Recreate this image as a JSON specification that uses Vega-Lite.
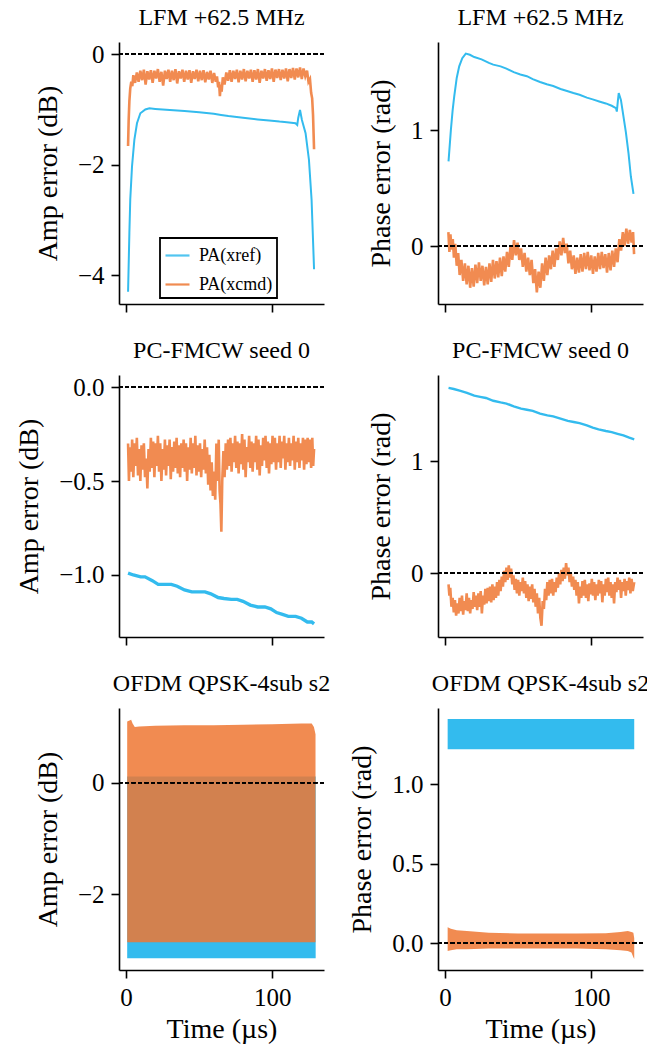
{
"$schema": "https://vega.github.io/schema/vega-lite/v6.json",
"background": "white",
"padding": {"left": 15, "top": 6, "right": 0, "bottom": 6},
"bounds": "flush",
"columns": 2,
"spacing": {"row": 71, "column": 114},
"resolve": {"scale": {"color": "independent"}, "legend": {"color": "independent"}},
"config": {
  "font": "Liberation Serif",
  "view": {"stroke": null},
  "axis": {"grid": false, "domainColor": "black", "domainWidth": 1.6, "tickColor": "black", "tickWidth": 1.6, "tickSize": 8, "labelPadding": 7, "labelFont": "Liberation Serif", "labelFontSize": 25, "labelColor": "black", "titleFont": "Liberation Serif", "titleFontSize": 28, "titleFontWeight": "normal", "titleColor": "black"},
  "axisY": {"titlePadding": 15},
  "axisX": {"titlePadding": 5},
  "title": {"font": "Liberation Serif", "fontSize": 24, "fontWeight": "normal", "color": "black", "offset": 12},
  "legend": {"labelFont": "Liberation Serif", "labelFontSize": 18, "labelColor": "black", "strokeColor": "black", "strokeWidth": 1.8, "fillColor": "white", "padding": 4, "cornerRadius": 0, "symbolType": "stroke", "symbolSize": 576, "symbolStrokeWidth": 2.2, "labelOffset": 8, "rowPadding": 6}
},
"datasets": {
"p1": [
{"s":"r","t":1.4,"v":-4.3},{"s":"r","t":2.3,"v":-3.23},{"s":"r","t":2.9,"v":-2.63},{"s":"r","t":4.1,"v":-2.03},{"s":"r","t":5.7,"v":-1.55},{"s":"r","t":7.5,"v":-1.25},{"s":"r","t":9.8,"v":-1.07},{"s":"r","t":13.2,"v":-1.0},{"s":"r","t":16,"v":-0.98},{"s":"r","t":20,"v":-0.99},{"s":"r","t":30,"v":-1.01},{"s":"r","t":40,"v":-1.03},{"s":"r","t":50,"v":-1.05},{"s":"r","t":60,"v":-1.08},{"s":"r","t":65,"v":-1.1},{"s":"r","t":70,"v":-1.12},{"s":"r","t":80,"v":-1.15},{"s":"r","t":90,"v":-1.18},{"s":"r","t":97.9,"v":-1.2},{"s":"r","t":105,"v":-1.22},{"s":"r","t":110,"v":-1.23},{"s":"r","t":115.9,"v":-1.25},{"s":"r","t":117.1,"v":-1.28},{"s":"r","t":117.8,"v":-1.15},{"s":"r","t":119,"v":-1.01},{"s":"r","t":120.3,"v":-1.19},{"s":"r","t":122.8,"v":-1.43},{"s":"r","t":125.1,"v":-1.91},{"s":"r","t":126.9,"v":-2.63},{"s":"r","t":128.6,"v":-3.89},
{"s":"c","t":1.4,"v":-1.66},{"s":"c","t":1.8,"v":-1.2},{"s":"c","t":2.3,"v":-0.85},{"s":"c","t":2.9,"v":-0.62},{"s":"c","t":3.6,"v":-0.5},{"s":"c","t":4.3,"v":-0.58},{"s":"c","t":5.0,"v":-0.38},{"s":"c","t":6.2,"v":-0.52},{"s":"c","t":7.4,"v":-0.33},{"s":"c","t":8.6,"v":-0.5},{"s":"c","t":9.8,"v":-0.3},{"s":"c","t":11.0,"v":-0.47},{"s":"c","t":12.2,"v":-0.28},{"s":"c","t":13.4,"v":-0.55},{"s":"c","t":14.6,"v":-0.31},{"s":"c","t":15.8,"v":-0.46},{"s":"c","t":17.0,"v":-0.29},{"s":"c","t":18.2,"v":-0.52},{"s":"c","t":19.4,"v":-0.3},{"s":"c","t":20.6,"v":-0.44},{"s":"c","t":21.8,"v":-0.27},{"s":"c","t":23.0,"v":-0.5},{"s":"c","t":24.2,"v":-0.32},{"s":"c","t":25.4,"v":-0.57},{"s":"c","t":26.6,"v":-0.3},{"s":"c","t":27.8,"v":-0.45},{"s":"c","t":29.0,"v":-0.28},{"s":"c","t":30.2,"v":-0.5},{"s":"c","t":31.4,"v":-0.3},{"s":"c","t":32.6,"v":-0.47},{"s":"c","t":33.8,"v":-0.27},{"s":"c","t":35.0,"v":-0.53},{"s":"c","t":36.2,"v":-0.31},{"s":"c","t":37.4,"v":-0.44},{"s":"c","t":38.6,"v":-0.28},{"s":"c","t":39.8,"v":-0.5},{"s":"c","t":41.0,"v":-0.3},{"s":"c","t":42.2,"v":-0.46},{"s":"c","t":43.4,"v":-0.29},{"s":"c","t":44.6,"v":-0.52},{"s":"c","t":45.8,"v":-0.31},{"s":"c","t":47.0,"v":-0.45},{"s":"c","t":48.2,"v":-0.28},{"s":"c","t":49.4,"v":-0.49},{"s":"c","t":50.6,"v":-0.3},{"s":"c","t":51.8,"v":-0.47},{"s":"c","t":53.0,"v":-0.29},{"s":"c","t":54.2,"v":-0.51},{"s":"c","t":55.4,"v":-0.32},{"s":"c","t":56.6,"v":-0.46},{"s":"c","t":57.8,"v":-0.3},{"s":"c","t":59.0,"v":-0.52},{"s":"c","t":60.2,"v":-0.34},{"s":"c","t":61.4,"v":-0.5},{"s":"c","t":62.2,"v":-0.4},{"s":"c","t":63.0,"v":-0.6},{"s":"c","t":63.6,"v":-0.5},{"s":"c","t":64.2,"v":-0.76},{"s":"c","t":64.8,"v":-0.55},{"s":"c","t":65.4,"v":-0.68},{"s":"c","t":66.2,"v":-0.42},{"s":"c","t":67.4,"v":-0.55},{"s":"c","t":68.6,"v":-0.33},{"s":"c","t":69.8,"v":-0.48},{"s":"c","t":71.0,"v":-0.29},{"s":"c","t":72.2,"v":-0.5},{"s":"c","t":73.4,"v":-0.3},{"s":"c","t":74.6,"v":-0.45},{"s":"c","t":75.8,"v":-0.28},{"s":"c","t":77.0,"v":-0.51},{"s":"c","t":78.2,"v":-0.3},{"s":"c","t":79.4,"v":-0.46},{"s":"c","t":80.6,"v":-0.27},{"s":"c","t":81.8,"v":-0.49},{"s":"c","t":83.0,"v":-0.3},{"s":"c","t":84.2,"v":-0.44},{"s":"c","t":85.4,"v":-0.28},{"s":"c","t":86.6,"v":-0.5},{"s":"c","t":87.8,"v":-0.29},{"s":"c","t":89.0,"v":-0.46},{"s":"c","t":90.2,"v":-0.27},{"s":"c","t":91.4,"v":-0.52},{"s":"c","t":92.6,"v":-0.3},{"s":"c","t":93.8,"v":-0.44},{"s":"c","t":95.0,"v":-0.27},{"s":"c","t":96.2,"v":-0.48},{"s":"c","t":97.4,"v":-0.29},{"s":"c","t":98.6,"v":-0.45},{"s":"c","t":99.8,"v":-0.26},{"s":"c","t":101.0,"v":-0.5},{"s":"c","t":102.2,"v":-0.28},{"s":"c","t":103.4,"v":-0.43},{"s":"c","t":104.6,"v":-0.27},{"s":"c","t":105.8,"v":-0.47},{"s":"c","t":107.0,"v":-0.28},{"s":"c","t":108.2,"v":-0.44},{"s":"c","t":109.4,"v":-0.26},{"s":"c","t":110.6,"v":-0.49},{"s":"c","t":111.8,"v":-0.27},{"s":"c","t":113.0,"v":-0.43},{"s":"c","t":114.2,"v":-0.25},{"s":"c","t":115.4,"v":-0.46},{"s":"c","t":116.6,"v":-0.26},{"s":"c","t":117.8,"v":-0.42},{"s":"c","t":119.0,"v":-0.24},{"s":"c","t":120.2,"v":-0.45},{"s":"c","t":121.4,"v":-0.26},{"s":"c","t":122.6,"v":-0.4},{"s":"c","t":123.8,"v":-0.3},{"s":"c","t":124.8,"v":-0.5},{"s":"c","t":125.8,"v":-0.45},{"s":"c","t":126.6,"v":-0.7},{"s":"c","t":127.3,"v":-0.8},{"s":"c","t":127.9,"v":-1.1},{"s":"c","t":128.6,"v":-1.72}
],
"p2": [
{"s":"r","t":2.4,"v":0.73},{"s":"r","t":4.0,"v":1.0},{"s":"r","t":5.2,"v":1.17},{"s":"r","t":6.3,"v":1.29},{"s":"r","t":8.0,"v":1.45},{"s":"r","t":9.7,"v":1.55},{"s":"r","t":11.8,"v":1.62},{"s":"r","t":14.2,"v":1.66},{"s":"r","t":17,"v":1.65},{"s":"r","t":20,"v":1.63},{"s":"r","t":25,"v":1.61},{"s":"r","t":30,"v":1.58},{"s":"r","t":33,"v":1.565},{"s":"r","t":38,"v":1.55},{"s":"r","t":42,"v":1.53},{"s":"r","t":47,"v":1.5},{"s":"r","t":51.5,"v":1.48},{"s":"r","t":56,"v":1.465},{"s":"r","t":60,"v":1.44},{"s":"r","t":65,"v":1.415},{"s":"r","t":69.6,"v":1.395},{"s":"r","t":74,"v":1.38},{"s":"r","t":79,"v":1.355},{"s":"r","t":84,"v":1.335},{"s":"r","t":87.8,"v":1.32},{"s":"r","t":92,"v":1.305},{"s":"r","t":97,"v":1.28},{"s":"r","t":101,"v":1.265},{"s":"r","t":106,"v":1.245},{"s":"r","t":110,"v":1.23},{"s":"r","t":114,"v":1.21},{"s":"r","t":116.9,"v":1.19},{"s":"r","t":117.5,"v":1.16},{"s":"r","t":118.2,"v":1.25},{"s":"r","t":118.8,"v":1.32},{"s":"r","t":120.3,"v":1.26},{"s":"r","t":122,"v":1.12},{"s":"r","t":123.7,"v":0.98},{"s":"r","t":125.5,"v":0.8},{"s":"r","t":127.1,"v":0.6},{"s":"r","t":128.9,"v":0.45},
{"s":"c","t":2.3,"v":0.12},{"s":"c","t":3.0,"v":-0.05},{"s":"c","t":3.7,"v":0.1},{"s":"c","t":4.5,"v":-0.03},{"s":"c","t":5.3,"v":0.06},{"s":"c","t":6.1,"v":-0.1},{"s":"c","t":7.0,"v":0.02},{"s":"c","t":8.0,"v":-0.17},{"s":"c","t":9.0,"v":-0.06},{"s":"c","t":10.0,"v":-0.25},{"s":"c","t":11.2,"v":-0.12},{"s":"c","t":12.4,"v":-0.3},{"s":"c","t":13.6,"v":-0.15},{"s":"c","t":14.8,"v":-0.33},{"s":"c","t":16.0,"v":-0.17},{"s":"c","t":17.2,"v":-0.36},{"s":"c","t":18.4,"v":-0.19},{"s":"c","t":19.6,"v":-0.35},{"s":"c","t":20.8,"v":-0.16},{"s":"c","t":22.0,"v":-0.32},{"s":"c","t":23.2,"v":-0.14},{"s":"c","t":24.4,"v":-0.3},{"s":"c","t":25.6,"v":-0.17},{"s":"c","t":26.8,"v":-0.34},{"s":"c","t":28.0,"v":-0.18},{"s":"c","t":29.2,"v":-0.33},{"s":"c","t":30.4,"v":-0.15},{"s":"c","t":31.6,"v":-0.31},{"s":"c","t":32.8,"v":-0.12},{"s":"c","t":34.0,"v":-0.28},{"s":"c","t":35.2,"v":-0.13},{"s":"c","t":36.4,"v":-0.27},{"s":"c","t":37.6,"v":-0.1},{"s":"c","t":38.8,"v":-0.26},{"s":"c","t":40.0,"v":-0.09},{"s":"c","t":41.2,"v":-0.22},{"s":"c","t":42.4,"v":-0.05},{"s":"c","t":43.6,"v":-0.18},{"s":"c","t":44.8,"v":0.0},{"s":"c","t":46.0,"v":-0.12},{"s":"c","t":47.2,"v":0.05},{"s":"c","t":48.4,"v":-0.08},{"s":"c","t":49.6,"v":0.03},{"s":"c","t":50.8,"v":-0.12},{"s":"c","t":52.0,"v":-0.02},{"s":"c","t":53.2,"v":-0.18},{"s":"c","t":54.4,"v":-0.06},{"s":"c","t":55.6,"v":-0.22},{"s":"c","t":56.8,"v":-0.1},{"s":"c","t":58.0,"v":-0.25},{"s":"c","t":59.2,"v":-0.12},{"s":"c","t":60.4,"v":-0.32},{"s":"c","t":61.6,"v":-0.2},{"s":"c","t":62.8,"v":-0.4},{"s":"c","t":64.0,"v":-0.22},{"s":"c","t":65.2,"v":-0.36},{"s":"c","t":66.4,"v":-0.15},{"s":"c","t":67.6,"v":-0.3},{"s":"c","t":68.8,"v":-0.1},{"s":"c","t":70.0,"v":-0.25},{"s":"c","t":71.2,"v":-0.08},{"s":"c","t":72.4,"v":-0.2},{"s":"c","t":73.6,"v":-0.04},{"s":"c","t":74.8,"v":-0.18},{"s":"c","t":76.0,"v":-0.02},{"s":"c","t":77.2,"v":-0.12},{"s":"c","t":78.4,"v":0.04},{"s":"c","t":79.6,"v":-0.08},{"s":"c","t":80.8,"v":0.07},{"s":"c","t":82.0,"v":-0.06},{"s":"c","t":83.2,"v":0.02},{"s":"c","t":84.4,"v":-0.15},{"s":"c","t":85.6,"v":-0.04},{"s":"c","t":86.8,"v":-0.2},{"s":"c","t":88.0,"v":-0.08},{"s":"c","t":89.2,"v":-0.24},{"s":"c","t":90.4,"v":-0.1},{"s":"c","t":91.6,"v":-0.23},{"s":"c","t":92.8,"v":-0.07},{"s":"c","t":94.0,"v":-0.22},{"s":"c","t":95.2,"v":-0.06},{"s":"c","t":96.4,"v":-0.2},{"s":"c","t":97.6,"v":-0.05},{"s":"c","t":98.8,"v":-0.21},{"s":"c","t":100.0,"v":-0.08},{"s":"c","t":101.2,"v":-0.24},{"s":"c","t":102.4,"v":-0.09},{"s":"c","t":103.6,"v":-0.22},{"s":"c","t":104.8,"v":-0.06},{"s":"c","t":106.0,"v":-0.2},{"s":"c","t":107.2,"v":-0.05},{"s":"c","t":108.4,"v":-0.19},{"s":"c","t":109.6,"v":-0.07},{"s":"c","t":110.8,"v":-0.23},{"s":"c","t":112.0,"v":-0.06},{"s":"c","t":113.2,"v":-0.21},{"s":"c","t":114.4,"v":-0.04},{"s":"c","t":115.6,"v":-0.18},{"s":"c","t":116.8,"v":-0.02},{"s":"c","t":118.0,"v":-0.14},{"s":"c","t":119.2,"v":0.06},{"s":"c","t":120.4,"v":-0.04},{"s":"c","t":121.6,"v":0.12},{"s":"c","t":122.8,"v":0.0},{"s":"c","t":124.0,"v":0.15},{"s":"c","t":125.2,"v":0.02},{"s":"c","t":126.4,"v":0.14},{"s":"c","t":127.6,"v":0.03},{"s":"c","t":128.6,"v":0.12},{"s":"c","t":129.3,"v":-0.07}
],
"p3": [
{"s":"r","t":1.4,"v":-0.99},{"s":"r","t":5,"v":-1.0},{"s":"r","t":10,"v":-1.01},{"s":"r","t":13,"v":-1.01},{"s":"r","t":18,"v":-1.03},{"s":"r","t":22,"v":-1.05},{"s":"r","t":26,"v":-1.05},{"s":"r","t":31,"v":-1.05},{"s":"r","t":35,"v":-1.06},{"s":"r","t":40,"v":-1.08},{"s":"r","t":45,"v":-1.09},{"s":"r","t":50,"v":-1.09},{"s":"r","t":54,"v":-1.09},{"s":"r","t":58,"v":-1.1},{"s":"r","t":63,"v":-1.12},{"s":"r","t":67,"v":-1.125},{"s":"r","t":72,"v":-1.13},{"s":"r","t":76,"v":-1.13},{"s":"r","t":80,"v":-1.14},{"s":"r","t":85,"v":-1.16},{"s":"r","t":90,"v":-1.17},{"s":"r","t":95,"v":-1.17},{"s":"r","t":99,"v":-1.18},{"s":"r","t":103,"v":-1.2},{"s":"r","t":107,"v":-1.21},{"s":"r","t":111,"v":-1.22},{"s":"r","t":116,"v":-1.22},{"s":"r","t":120,"v":-1.23},{"s":"r","t":124,"v":-1.25},{"s":"r","t":127,"v":-1.25},{"s":"r","t":128.6,"v":-1.26},
{"s":"c","t":1.4,"v":-0.3},{"s":"c","t":2.0,"v":-0.5},{"s":"c","t":2.6,"v":-0.32},{"s":"c","t":3.4,"v":-0.45},{"s":"c","t":4.2,"v":-0.28},{"s":"c","t":5.0,"v":-0.48},{"s":"c","t":5.8,"v":-0.3},{"s":"c","t":6.6,"v":-0.42},{"s":"c","t":7.4,"v":-0.27},{"s":"c","t":8.2,"v":-0.47},{"s":"c","t":9.0,"v":-0.33},{"s":"c","t":9.8,"v":-0.5},{"s":"c","t":10.6,"v":-0.31},{"s":"c","t":11.4,"v":-0.44},{"s":"c","t":12.2,"v":-0.3},{"s":"c","t":13.0,"v":-0.48},{"s":"c","t":13.8,"v":-0.38},{"s":"c","t":14.6,"v":-0.54},{"s":"c","t":15.4,"v":-0.33},{"s":"c","t":16.2,"v":-0.45},{"s":"c","t":17.0,"v":-0.27},{"s":"c","t":17.8,"v":-0.43},{"s":"c","t":18.6,"v":-0.29},{"s":"c","t":19.4,"v":-0.48},{"s":"c","t":20.2,"v":-0.3},{"s":"c","t":21.0,"v":-0.42},{"s":"c","t":21.8,"v":-0.26},{"s":"c","t":22.6,"v":-0.45},{"s":"c","t":23.4,"v":-0.3},{"s":"c","t":24.2,"v":-0.5},{"s":"c","t":25.0,"v":-0.33},{"s":"c","t":25.8,"v":-0.44},{"s":"c","t":26.6,"v":-0.28},{"s":"c","t":27.4,"v":-0.47},{"s":"c","t":28.2,"v":-0.31},{"s":"c","t":29.0,"v":-0.42},{"s":"c","t":29.8,"v":-0.28},{"s":"c","t":30.6,"v":-0.49},{"s":"c","t":31.4,"v":-0.32},{"s":"c","t":32.2,"v":-0.45},{"s":"c","t":33.0,"v":-0.29},{"s":"c","t":33.8,"v":-0.43},{"s":"c","t":34.6,"v":-0.27},{"s":"c","t":35.4,"v":-0.46},{"s":"c","t":36.2,"v":-0.31},{"s":"c","t":37.0,"v":-0.48},{"s":"c","t":37.8,"v":-0.3},{"s":"c","t":38.6,"v":-0.43},{"s":"c","t":39.4,"v":-0.28},{"s":"c","t":40.2,"v":-0.45},{"s":"c","t":41.0,"v":-0.3},{"s":"c","t":41.8,"v":-0.5},{"s":"c","t":42.6,"v":-0.32},{"s":"c","t":43.4,"v":-0.44},{"s":"c","t":44.2,"v":-0.27},{"s":"c","t":45.0,"v":-0.46},{"s":"c","t":45.8,"v":-0.3},{"s":"c","t":46.6,"v":-0.43},{"s":"c","t":47.4,"v":-0.26},{"s":"c","t":48.2,"v":-0.47},{"s":"c","t":49.0,"v":-0.31},{"s":"c","t":49.8,"v":-0.45},{"s":"c","t":50.6,"v":-0.3},{"s":"c","t":51.4,"v":-0.48},{"s":"c","t":52.2,"v":-0.33},{"s":"c","t":53.0,"v":-0.44},{"s":"c","t":53.8,"v":-0.28},{"s":"c","t":54.6,"v":-0.46},{"s":"c","t":55.4,"v":-0.32},{"s":"c","t":56.2,"v":-0.52},{"s":"c","t":57.0,"v":-0.36},{"s":"c","t":57.8,"v":-0.55},{"s":"c","t":58.6,"v":-0.4},{"s":"c","t":59.4,"v":-0.58},{"s":"c","t":60.2,"v":-0.45},{"s":"c","t":61.0,"v":-0.6},{"s":"c","t":61.8,"v":-0.3},{"s":"c","t":62.6,"v":-0.5},{"s":"c","t":63.4,"v":-0.28},{"s":"c","t":64.0,"v":-0.55},{"s":"c","t":64.6,"v":-0.62},{"s":"c","t":65.2,"v":-0.77},{"s":"c","t":65.8,"v":-0.5},{"s":"c","t":66.6,"v":-0.34},{"s":"c","t":67.4,"v":-0.48},{"s":"c","t":68.2,"v":-0.3},{"s":"c","t":69.0,"v":-0.44},{"s":"c","t":69.8,"v":-0.28},{"s":"c","t":70.6,"v":-0.42},{"s":"c","t":71.4,"v":-0.27},{"s":"c","t":72.2,"v":-0.45},{"s":"c","t":73.0,"v":-0.3},{"s":"c","t":73.8,"v":-0.4},{"s":"c","t":74.6,"v":-0.26},{"s":"c","t":75.4,"v":-0.43},{"s":"c","t":76.2,"v":-0.29},{"s":"c","t":77.0,"v":-0.46},{"s":"c","t":77.8,"v":-0.3},{"s":"c","t":78.6,"v":-0.41},{"s":"c","t":79.4,"v":-0.25},{"s":"c","t":80.2,"v":-0.44},{"s":"c","t":81.0,"v":-0.28},{"s":"c","t":81.8,"v":-0.48},{"s":"c","t":82.6,"v":-0.32},{"s":"c","t":83.4,"v":-0.4},{"s":"c","t":84.2,"v":-0.26},{"s":"c","t":85.0,"v":-0.43},{"s":"c","t":85.8,"v":-0.29},{"s":"c","t":86.6,"v":-0.45},{"s":"c","t":87.4,"v":-0.3},{"s":"c","t":88.2,"v":-0.4},{"s":"c","t":89.0,"v":-0.26},{"s":"c","t":89.8,"v":-0.44},{"s":"c","t":90.6,"v":-0.28},{"s":"c","t":91.4,"v":-0.47},{"s":"c","t":92.2,"v":-0.31},{"s":"c","t":93.0,"v":-0.42},{"s":"c","t":93.8,"v":-0.27},{"s":"c","t":94.6,"v":-0.39},{"s":"c","t":95.4,"v":-0.26},{"s":"c","t":96.2,"v":-0.43},{"s":"c","t":97.0,"v":-0.29},{"s":"c","t":97.8,"v":-0.46},{"s":"c","t":98.6,"v":-0.3},{"s":"c","t":99.4,"v":-0.41},{"s":"c","t":100.2,"v":-0.26},{"s":"c","t":101.0,"v":-0.4},{"s":"c","t":101.8,"v":-0.27},{"s":"c","t":102.6,"v":-0.44},{"s":"c","t":103.4,"v":-0.3},{"s":"c","t":104.2,"v":-0.4},{"s":"c","t":105.0,"v":-0.26},{"s":"c","t":105.8,"v":-0.43},{"s":"c","t":106.6,"v":-0.29},{"s":"c","t":107.4,"v":-0.38},{"s":"c","t":108.2,"v":-0.26},{"s":"c","t":109.0,"v":-0.44},{"s":"c","t":109.8,"v":-0.3},{"s":"c","t":110.6,"v":-0.4},{"s":"c","t":111.4,"v":-0.27},{"s":"c","t":112.2,"v":-0.42},{"s":"c","t":113.0,"v":-0.3},{"s":"c","t":113.8,"v":-0.39},{"s":"c","t":114.6,"v":-0.26},{"s":"c","t":115.4,"v":-0.44},{"s":"c","t":116.2,"v":-0.29},{"s":"c","t":117.0,"v":-0.4},{"s":"c","t":117.8,"v":-0.27},{"s":"c","t":118.6,"v":-0.43},{"s":"c","t":119.4,"v":-0.3},{"s":"c","t":120.2,"v":-0.39},{"s":"c","t":121.0,"v":-0.27},{"s":"c","t":121.8,"v":-0.44},{"s":"c","t":122.6,"v":-0.28},{"s":"c","t":123.4,"v":-0.41},{"s":"c","t":124.2,"v":-0.27},{"s":"c","t":125.0,"v":-0.4},{"s":"c","t":125.8,"v":-0.28},{"s":"c","t":126.6,"v":-0.43},{"s":"c","t":127.4,"v":-0.27},{"s":"c","t":128.0,"v":-0.42},{"s":"c","t":128.6,"v":-0.33}
],
"p4": [
{"s":"r","t":2.4,"v":1.655},{"s":"r","t":6,"v":1.645},{"s":"r","t":10,"v":1.63},{"s":"r","t":15,"v":1.61},{"s":"r","t":20,"v":1.585},{"s":"r","t":24,"v":1.575},{"s":"r","t":28,"v":1.565},{"s":"r","t":33,"v":1.54},{"s":"r","t":38,"v":1.525},{"s":"r","t":42,"v":1.515},{"s":"r","t":47,"v":1.49},{"s":"r","t":52,"v":1.47},{"s":"r","t":56,"v":1.46},{"s":"r","t":60,"v":1.45},{"s":"r","t":65,"v":1.425},{"s":"r","t":70,"v":1.41},{"s":"r","t":74,"v":1.4},{"s":"r","t":79,"v":1.38},{"s":"r","t":84,"v":1.36},{"s":"r","t":88,"v":1.35},{"s":"r","t":92,"v":1.34},{"s":"r","t":97,"v":1.32},{"s":"r","t":101,"v":1.3},{"s":"r","t":105,"v":1.285},{"s":"r","t":110,"v":1.27},{"s":"r","t":114,"v":1.26},{"s":"r","t":118,"v":1.245},{"s":"r","t":122,"v":1.23},{"s":"r","t":126,"v":1.21},{"s":"r","t":129.4,"v":1.195},
{"s":"c","t":2.4,"v":-0.1},{"s":"c","t":3.0,"v":-0.2},{"s":"c","t":3.6,"v":-0.13},{"s":"c","t":4.4,"v":-0.3},{"s":"c","t":5.2,"v":-0.22},{"s":"c","t":6.0,"v":-0.35},{"s":"c","t":6.8,"v":-0.24},{"s":"c","t":7.6,"v":-0.38},{"s":"c","t":8.4,"v":-0.27},{"s":"c","t":9.2,"v":-0.36},{"s":"c","t":10.0,"v":-0.22},{"s":"c","t":10.8,"v":-0.34},{"s":"c","t":11.6,"v":-0.2},{"s":"c","t":12.4,"v":-0.37},{"s":"c","t":13.2,"v":-0.25},{"s":"c","t":14.0,"v":-0.33},{"s":"c","t":14.8,"v":-0.18},{"s":"c","t":15.6,"v":-0.34},{"s":"c","t":16.4,"v":-0.22},{"s":"c","t":17.2,"v":-0.36},{"s":"c","t":18.0,"v":-0.24},{"s":"c","t":18.8,"v":-0.32},{"s":"c","t":19.6,"v":-0.17},{"s":"c","t":20.4,"v":-0.3},{"s":"c","t":21.2,"v":-0.2},{"s":"c","t":22.0,"v":-0.33},{"s":"c","t":22.8,"v":-0.18},{"s":"c","t":23.6,"v":-0.3},{"s":"c","t":24.4,"v":-0.16},{"s":"c","t":25.2,"v":-0.36},{"s":"c","t":26.0,"v":-0.2},{"s":"c","t":26.8,"v":-0.28},{"s":"c","t":27.6,"v":-0.14},{"s":"c","t":28.4,"v":-0.27},{"s":"c","t":29.2,"v":-0.13},{"s":"c","t":30.0,"v":-0.25},{"s":"c","t":30.8,"v":-0.12},{"s":"c","t":31.6,"v":-0.26},{"s":"c","t":32.4,"v":-0.1},{"s":"c","t":33.2,"v":-0.24},{"s":"c","t":34.0,"v":-0.12},{"s":"c","t":34.8,"v":-0.22},{"s":"c","t":35.6,"v":-0.08},{"s":"c","t":36.4,"v":-0.2},{"s":"c","t":37.2,"v":-0.06},{"s":"c","t":38.0,"v":-0.16},{"s":"c","t":38.8,"v":-0.03},{"s":"c","t":39.6,"v":-0.12},{"s":"c","t":40.4,"v":0.02},{"s":"c","t":41.2,"v":-0.08},{"s":"c","t":42.0,"v":0.05},{"s":"c","t":42.8,"v":-0.06},{"s":"c","t":43.6,"v":0.07},{"s":"c","t":44.4,"v":-0.04},{"s":"c","t":45.2,"v":0.04},{"s":"c","t":46.0,"v":-0.1},{"s":"c","t":46.8,"v":-0.02},{"s":"c","t":47.6,"v":-0.15},{"s":"c","t":48.4,"v":-0.05},{"s":"c","t":49.2,"v":-0.18},{"s":"c","t":50.0,"v":-0.06},{"s":"c","t":50.8,"v":-0.2},{"s":"c","t":51.6,"v":-0.08},{"s":"c","t":52.4,"v":-0.16},{"s":"c","t":53.2,"v":-0.04},{"s":"c","t":54.0,"v":-0.18},{"s":"c","t":54.8,"v":-0.07},{"s":"c","t":55.6,"v":-0.22},{"s":"c","t":56.4,"v":-0.1},{"s":"c","t":57.2,"v":-0.25},{"s":"c","t":58.0,"v":-0.12},{"s":"c","t":58.8,"v":-0.23},{"s":"c","t":59.6,"v":-0.1},{"s":"c","t":60.4,"v":-0.26},{"s":"c","t":61.2,"v":-0.14},{"s":"c","t":62.0,"v":-0.3},{"s":"c","t":62.8,"v":-0.18},{"s":"c","t":63.6,"v":-0.36},{"s":"c","t":64.4,"v":-0.22},{"s":"c","t":65.2,"v":-0.4},{"s":"c","t":66.0,"v":-0.47},{"s":"c","t":66.8,"v":-0.25},{"s":"c","t":67.6,"v":-0.32},{"s":"c","t":68.4,"v":-0.14},{"s":"c","t":69.2,"v":-0.24},{"s":"c","t":70.0,"v":-0.08},{"s":"c","t":70.8,"v":-0.2},{"s":"c","t":71.6,"v":-0.06},{"s":"c","t":72.4,"v":-0.18},{"s":"c","t":73.2,"v":-0.05},{"s":"c","t":74.0,"v":-0.2},{"s":"c","t":74.8,"v":-0.08},{"s":"c","t":75.6,"v":-0.17},{"s":"c","t":76.4,"v":-0.04},{"s":"c","t":77.2,"v":-0.13},{"s":"c","t":78.0,"v":0.0},{"s":"c","t":78.8,"v":-0.1},{"s":"c","t":79.6,"v":0.03},{"s":"c","t":80.4,"v":-0.07},{"s":"c","t":81.2,"v":0.05},{"s":"c","t":82.0,"v":-0.05},{"s":"c","t":82.8,"v":0.09},{"s":"c","t":83.6,"v":-0.02},{"s":"c","t":84.4,"v":0.05},{"s":"c","t":85.2,"v":-0.08},{"s":"c","t":86.0,"v":0.0},{"s":"c","t":86.8,"v":-0.12},{"s":"c","t":87.6,"v":-0.03},{"s":"c","t":88.4,"v":-0.15},{"s":"c","t":89.2,"v":-0.06},{"s":"c","t":90.0,"v":-0.2},{"s":"c","t":90.8,"v":-0.08},{"s":"c","t":91.6,"v":-0.27},{"s":"c","t":92.4,"v":-0.12},{"s":"c","t":93.2,"v":-0.22},{"s":"c","t":94.0,"v":-0.07},{"s":"c","t":94.8,"v":-0.2},{"s":"c","t":95.6,"v":-0.06},{"s":"c","t":96.4,"v":-0.22},{"s":"c","t":97.2,"v":-0.1},{"s":"c","t":98.0,"v":-0.25},{"s":"c","t":98.8,"v":-0.09},{"s":"c","t":99.6,"v":-0.19},{"s":"c","t":100.4,"v":-0.05},{"s":"c","t":101.2,"v":-0.2},{"s":"c","t":102.0,"v":-0.08},{"s":"c","t":102.8,"v":-0.24},{"s":"c","t":103.6,"v":-0.1},{"s":"c","t":104.4,"v":-0.2},{"s":"c","t":105.2,"v":-0.06},{"s":"c","t":106.0,"v":-0.18},{"s":"c","t":106.8,"v":-0.07},{"s":"c","t":107.6,"v":-0.26},{"s":"c","t":108.4,"v":-0.1},{"s":"c","t":109.2,"v":-0.2},{"s":"c","t":110.0,"v":-0.05},{"s":"c","t":110.8,"v":-0.17},{"s":"c","t":111.6,"v":-0.04},{"s":"c","t":112.4,"v":-0.2},{"s":"c","t":113.2,"v":-0.08},{"s":"c","t":114.0,"v":-0.22},{"s":"c","t":114.8,"v":-0.1},{"s":"c","t":115.6,"v":-0.27},{"s":"c","t":116.4,"v":-0.08},{"s":"c","t":117.2,"v":-0.17},{"s":"c","t":118.0,"v":-0.04},{"s":"c","t":118.8,"v":-0.15},{"s":"c","t":119.6,"v":-0.06},{"s":"c","t":120.4,"v":-0.22},{"s":"c","t":121.2,"v":-0.08},{"s":"c","t":122.0,"v":-0.16},{"s":"c","t":122.8,"v":-0.05},{"s":"c","t":123.6,"v":-0.2},{"s":"c","t":124.4,"v":-0.07},{"s":"c","t":125.2,"v":-0.15},{"s":"c","t":126.0,"v":-0.04},{"s":"c","t":126.8,"v":-0.18},{"s":"c","t":127.6,"v":-0.05},{"s":"c","t":128.4,"v":-0.16},{"s":"c","t":129.4,"v":-0.08}
],
"p5": [
{"s":"r","t":0.8,"lo":-3.15,"hi":0.11},{"s":"r","t":129.7,"lo":-3.15,"hi":0.11},
{"s":"c","t":0.8,"lo":-2.86,"hi":1.1},{"s":"c","t":2.0,"lo":-2.86,"hi":1.11},{"s":"c","t":3.5,"lo":-2.86,"hi":1.13},{"s":"c","t":4.5,"lo":-2.86,"hi":1.06},{"s":"c","t":6.0,"lo":-2.86,"hi":1.0},{"s":"c","t":9.0,"lo":-2.86,"hi":1.01},{"s":"c","t":20,"lo":-2.86,"hi":1.02},{"s":"c","t":40,"lo":-2.86,"hi":1.03},{"s":"c","t":60,"lo":-2.86,"hi":1.03},{"s":"c","t":80,"lo":-2.86,"hi":1.04},{"s":"c","t":100,"lo":-2.86,"hi":1.05},{"s":"c","t":120,"lo":-2.86,"hi":1.06},{"s":"c","t":127,"lo":-2.86,"hi":1.06},{"s":"c","t":128.5,"lo":-2.86,"hi":1.0},{"s":"c","t":129.6,"lo":-2.86,"hi":0.87}
],
"p6": [
{"s":"r","t":1.8,"lo":1.22,"hi":1.41},{"s":"r","t":129.4,"lo":1.22,"hi":1.41},
{"s":"c","t":1.8,"lo":-0.05,"hi":0.1},{"s":"c","t":4,"lo":-0.045,"hi":0.09},{"s":"c","t":8,"lo":-0.04,"hi":0.08},{"s":"c","t":15,"lo":-0.04,"hi":0.075},{"s":"c","t":30,"lo":-0.035,"hi":0.065},{"s":"c","t":50,"lo":-0.035,"hi":0.06},{"s":"c","t":70,"lo":-0.035,"hi":0.06},{"s":"c","t":90,"lo":-0.035,"hi":0.06},{"s":"c","t":110,"lo":-0.04,"hi":0.062},{"s":"c","t":120,"lo":-0.045,"hi":0.07},{"s":"c","t":125,"lo":-0.05,"hi":0.075},{"s":"c","t":127.5,"lo":-0.06,"hi":0.07},{"s":"c","t":128.8,"lo":-0.09,"hi":0.065},{"s":"c","t":129.4,"lo":-0.1,"hi":0.03}
]
},
"concat": [
  {"width": 205, "height": 262, "title": "LFM +62.5 MHz", "data": {"name": "p1"},
   "layer": [
    {"transform": [{"filter": "datum.s=='r'"}], "mark": {"type": "line", "strokeWidth": 2},
     "encoding": {
      "x": {"field": "t", "type": "quantitative", "scale": {"domain": [-4.8, 135.4], "nice": false, "zero": false}, "axis": {"values": [0, 100], "labels": false, "title": null}},
      "y": {"field": "v", "type": "quantitative", "scale": {"domain": [-4.52, 0.22], "nice": false, "zero": false}, "axis": {"values": [-4, -2, 0], "format": "d", "title": "Amp error (dB)"}},
      "color": {"field": "s", "type": "nominal", "scale": {"domain": ["r", "c"], "range": ["#33BBEE", "#EE7733"]}, "legend": {"orient": "none", "legendX": 41, "legendY": 196, "title": null, "labelExpr": "datum.label=='r' ? 'PA(xref)' : 'PA(xcmd)'"}}}},
    {"transform": [{"filter": "datum.s=='c'"}], "mark": {"type": "line", "strokeWidth": 2.6, "opacity": 0.85},
     "encoding": {"x": {"field": "t", "type": "quantitative"}, "y": {"field": "v", "type": "quantitative"},
      "color": {"field": "s", "type": "nominal", "scale": {"domain": ["r", "c"], "range": ["#33BBEE", "#EE7733"]}, "legend": {"orient": "none", "legendX": 41, "legendY": 196, "title": null, "labelExpr": "datum.label=='r' ? 'PA(xref)' : 'PA(xcmd)'"}}}},
    {"mark": {"type": "rule", "color": "black", "strokeWidth": 1, "strokeDash": [4, 2.5]}, "encoding": {"y": {"datum": 0}}}
   ]},
  {"width": 205, "height": 262, "title": "LFM +62.5 MHz", "data": {"name": "p2"},
   "layer": [
    {"transform": [{"filter": "datum.s=='r'"}], "mark": {"type": "line", "strokeWidth": 2, "color": "#33BBEE"},
     "encoding": {
      "x": {"field": "t", "type": "quantitative", "scale": {"domain": [-4.8, 135.4], "nice": false, "zero": false}, "axis": {"values": [0, 100], "labels": false, "title": null}},
      "y": {"field": "v", "type": "quantitative", "scale": {"domain": [-0.5, 1.76], "nice": false, "zero": false}, "axis": {"values": [0, 1], "format": "d", "title": "Phase error (rad)"}}}},
    {"transform": [{"filter": "datum.s=='c'"}], "mark": {"type": "line", "strokeWidth": 2.6, "color": "#EE7733", "opacity": 0.85},
     "encoding": {"x": {"field": "t", "type": "quantitative"}, "y": {"field": "v", "type": "quantitative"}}},
    {"mark": {"type": "rule", "color": "black", "strokeWidth": 1, "strokeDash": [4, 2.5]}, "encoding": {"y": {"datum": 0}}}
   ]},
  {"width": 205, "height": 262, "title": "PC-FMCW seed 0", "data": {"name": "p3"},
   "layer": [
    {"transform": [{"filter": "datum.s=='r'"}], "mark": {"type": "line", "strokeWidth": 3.4, "color": "#33BBEE"},
     "encoding": {
      "x": {"field": "t", "type": "quantitative", "scale": {"domain": [-4.8, 135.4], "nice": false, "zero": false}, "axis": {"values": [0, 100], "labels": false, "title": null}},
      "y": {"field": "v", "type": "quantitative", "scale": {"domain": [-1.33, 0.064], "nice": false, "zero": false}, "axis": {"values": [-1, -0.5, 0], "format": ".1f", "title": "Amp error (dB)"}}}},
    {"transform": [{"filter": "datum.s=='c'"}], "mark": {"type": "line", "strokeWidth": 2.6, "color": "#EE7733", "opacity": 0.85},
     "encoding": {"x": {"field": "t", "type": "quantitative"}, "y": {"field": "v", "type": "quantitative"}}},
    {"mark": {"type": "rule", "color": "black", "strokeWidth": 1, "strokeDash": [4, 2.5]}, "encoding": {"y": {"datum": 0}}}
   ]},
  {"width": 205, "height": 262, "title": "PC-FMCW seed 0", "data": {"name": "p4"},
   "layer": [
    {"transform": [{"filter": "datum.s=='r'"}], "mark": {"type": "line", "strokeWidth": 2.4, "color": "#33BBEE"},
     "encoding": {
      "x": {"field": "t", "type": "quantitative", "scale": {"domain": [-4.8, 135.4], "nice": false, "zero": false}, "axis": {"values": [0, 100], "labels": false, "title": null}},
      "y": {"field": "v", "type": "quantitative", "scale": {"domain": [-0.57, 1.77], "nice": false, "zero": false}, "axis": {"values": [0, 1], "format": "d", "title": "Phase error (rad)"}}}},
    {"transform": [{"filter": "datum.s=='c'"}], "mark": {"type": "line", "strokeWidth": 2.6, "color": "#EE7733", "opacity": 0.85},
     "encoding": {"x": {"field": "t", "type": "quantitative"}, "y": {"field": "v", "type": "quantitative"}}},
    {"mark": {"type": "rule", "color": "black", "strokeWidth": 1, "strokeDash": [4, 2.5]}, "encoding": {"y": {"datum": 0}}}
   ]},
  {"width": 205, "height": 262, "title": "OFDM QPSK-4sub s2", "data": {"name": "p5"},
   "layer": [
    {"transform": [{"filter": "datum.s=='r'"}], "mark": {"type": "area", "color": "#33BBEE"},
     "encoding": {
      "x": {"field": "t", "type": "quantitative", "scale": {"domain": [-4.8, 135.4], "nice": false, "zero": false}, "axis": {"values": [0, 100], "format": "d", "title": "Time (µs)"}},
      "y": {"field": "lo", "type": "quantitative", "scale": {"domain": [-3.36, 1.34], "nice": false, "zero": false}, "axis": {"values": [-2, 0], "format": "d", "title": "Amp error (dB)"}},
      "y2": {"field": "hi"}}},
    {"transform": [{"filter": "datum.s=='c'"}], "mark": {"type": "area", "color": "#EE7733", "opacity": 0.85},
     "encoding": {"x": {"field": "t", "type": "quantitative"}, "y": {"field": "lo", "type": "quantitative"}, "y2": {"field": "hi"}}},
    {"mark": {"type": "rule", "color": "black", "strokeWidth": 1, "strokeDash": [4, 2.5]}, "encoding": {"y": {"datum": 0}}}
   ]},
  {"width": 205, "height": 262, "title": "OFDM QPSK-4sub s2", "data": {"name": "p6"},
   "layer": [
    {"transform": [{"filter": "datum.s=='r'"}], "mark": {"type": "area", "color": "#33BBEE"},
     "encoding": {
      "x": {"field": "t", "type": "quantitative", "scale": {"domain": [-4.8, 135.4], "nice": false, "zero": false}, "axis": {"values": [0, 100], "format": "d", "title": "Time (µs)"}},
      "y": {"field": "lo", "type": "quantitative", "scale": {"domain": [-0.17, 1.48], "nice": false, "zero": false}, "axis": {"values": [0, 0.5, 1], "format": ".1f", "title": "Phase error (rad)"}},
      "y2": {"field": "hi"}}},
    {"transform": [{"filter": "datum.s=='c'"}], "mark": {"type": "area", "color": "#EE7733", "opacity": 0.85},
     "encoding": {"x": {"field": "t", "type": "quantitative"}, "y": {"field": "lo", "type": "quantitative"}, "y2": {"field": "hi"}}},
    {"mark": {"type": "rule", "color": "black", "strokeWidth": 1, "strokeDash": [4, 2.5]}, "encoding": {"y": {"datum": 0}}}
   ]}
]
}
